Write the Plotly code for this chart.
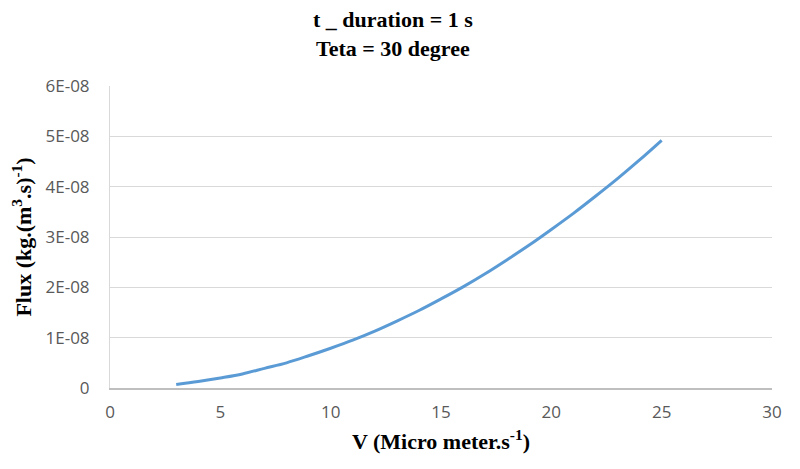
import plotly.graph_objects as go

# values (flux in kg.(m3.s)^-1)
velocity = [3, 4, 5, 6, 7, 8, 9, 10, 11, 12, 13, 14, 15, 16, 17, 18, 19, 20, 21, 22, 23, 24, 25]
flux = [0.07e-8, 0.13e-8, 0.20e-8, 0.28e-8, 0.39e-8, 0.50e-8, 0.64e-8, 0.79e-8,
        0.95e-8, 1.13e-8, 1.33e-8, 1.54e-8, 1.77e-8, 2.01e-8, 2.27e-8, 2.55e-8,
        2.84e-8, 3.15e-8, 3.47e-8, 3.81e-8, 4.16e-8, 4.53e-8, 4.92e-8]

x_ticks = [0, 5, 10, 15, 20, 25, 30]
y_ticks = [0, 1e-8, 2e-8, 3e-8, 4e-8, 5e-8, 6e-8]
y_tick_labels = ["0", "1E-08", "2E-08", "3E-08", "4E-08", "5E-08", "6E-08"]

serif = "Liberation Serif, Times New Roman, serif"
sans = "Open Sans, Liberation Sans, sans-serif"

fig = go.Figure()
fig.add_scatter(x=velocity, y=flux, mode="lines", line=dict(color="#5b9bd5", width=3, shape="spline"),
                showlegend=False)

# page body has an 8px margin, so the figure is a bit smaller than the window
fig.update_layout(
    width=792, height=461,
    margin=dict(l=102, r=28, t=78, b=81, autoexpand=False),
    paper_bgcolor="white", plot_bgcolor="white",
    title=dict(text="<b>t _ duration = 1 s<br>Teta = 30 degree</b>", x=0.486, xanchor="center",
               y=0.958, yanchor="middle", font=dict(family=serif, size=22, color="black")),
    xaxis=dict(range=[0, 30], tickvals=x_ticks, showgrid=False, zeroline=False, automargin=False,
               showline=True, linecolor="#bfbfbf", linewidth=2, ticks="", ticklen=0,
               ticklabelstandoff=8,
               tickfont=dict(family=sans, size=17, color="#595959"),
               title=dict(text="<b>V (Micro meter.s<sup>-1</sup>)</b>", standoff=11,
                          font=dict(family=serif, size=22, color="black"))),
    yaxis=dict(range=[0, 6e-8], tickvals=y_ticks, ticktext=y_tick_labels, showgrid=True,
               gridcolor="#d9d9d9", gridwidth=1, zeroline=False, showline=True, automargin=False,
               linecolor="#d9d9d9", ticks="", ticklen=0, ticklabelstandoff=16,
               tickfont=dict(family=sans, size=17, color="#595959"),
               title=dict(text="<b>Flux (kg.(m<sup>3</sup>.s)<sup>-1</sup>)</b>", standoff=15,
                          font=dict(family=serif, size=22, color="black"))),
    shapes=[dict(type="line", xref="paper", yref="paper", x0=1.041, x1=1.041, y0=-0.3, y1=1.3,
                 line=dict(color="#d9d9d9", width=1))],
)

fig.write_html("out.html")
